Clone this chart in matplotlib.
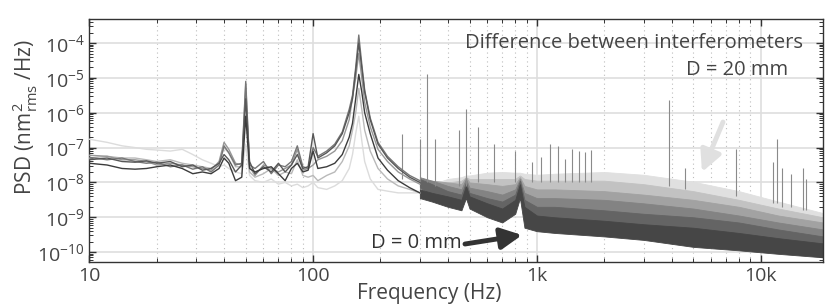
import numpy as np
import matplotlib.pyplot as plt
from matplotlib.ticker import LogLocator, NullFormatter, FixedLocator, FixedFormatter

plt.rcParams['font.family'] = ['Open Sans', 'DejaVu Sans']
plt.rcParams['mathtext.fontset'] = 'custom'
plt.rcParams['mathtext.rm'] = 'Open Sans'

# low frequency part (drawn as lines), log10 PSD in nm^2/Hz
f_lo = [10, 12, 14, 16, 18, 20, 23, 26, 29, 32, 35, 38, 40, 42, 45, 48, 50, 52, 55, 60,
        65, 70, 75, 80, 85, 90, 95, 100, 105, 115, 125, 135, 145, 150, 155, 160, 165, 170,
        180, 195, 215, 240, 270, 300]
lo_d0 = [-7.45, -7.5, -7.6, -7.62, -7.6, -7.55, -7.5, -7.6, -7.75, -7.7, -7.75, -7.6, -7.3, -7.45,
         -7.95, -7.85, -6.1, -7.6, -7.7, -7.6, -7.55, -7.75, -7.95, -7.6, -7.45, -7.7, -7.65, -7.1,
         -7.6, -7.55, -7.45, -7.2, -6.7, -6.3, -5.6, -4.9, -5.4, -6.0, -6.6, -7.3, -7.65, -7.95,
         -8.15, -8.3]
lo_d1 = [-7.35, -7.3, -7.4, -7.42, -7.38, -7.45, -7.4, -7.55, -7.5, -7.65, -7.6, -7.45, -7.2, -7.35,
         -7.7, -7.5, -5.6, -7.4, -7.75, -7.55, -7.7, -7.45, -7.7, -7.5, -7.2, -7.6, -7.55, -6.6,
         -7.3, -7.15, -6.95, -6.6, -6.0, -5.6, -4.8, -4.0, -4.7, -5.4, -6.2, -6.9, -7.3, -7.6,
         -7.85, -8.0]
lo_d2 = [-7.28, -7.35, -7.3, -7.4, -7.45, -7.42, -7.55, -7.5, -7.62, -7.55, -7.7, -7.5, -6.95, -7.15,
         -7.5, -7.45, -5.1, -7.5, -7.6, -7.4, -7.75, -7.5, -7.55, -7.4, -6.95, -7.55, -7.6, -7.0,
         -7.25, -7.1, -6.9, -6.55, -5.9, -5.5, -4.7, -3.77, -4.6, -5.35, -6.15, -6.85, -7.25, -7.55,
         -7.8, -7.95]
lo_d3 = [-7.22, -7.25, -7.35, -7.35, -7.4, -7.5, -7.45, -7.5, -7.55, -7.6, -7.65, -7.4, -6.85, -7.05,
         -7.45, -7.5, -5.2, -7.55, -7.8, -7.5, -7.6, -7.7, -7.6, -7.5, -7.05, -7.65, -7.6, -7.5,
         -7.35, -7.25, -7.1, -6.8, -6.2, -5.55, -5.0, -4.3, -5.0, -5.7, -6.4, -7.05, -7.4, -7.7,
         -7.9, -8.05]
lo_d4 = [-7.3, -7.25, -7.3, -7.3, -7.35, -7.4, -7.35, -7.45, -7.5, -7.55, -7.6, -7.45, -7.0, -7.15,
         -7.55, -7.55, -5.4, -7.7, -7.85, -7.75, -7.6, -7.8, -7.7, -7.75, -7.35, -7.8, -7.85, -7.8,
         -7.95, -7.8, -7.7, -7.4, -6.95, -6.5, -6.0, -5.3, -5.9, -6.5, -7.1, -7.6, -7.9, -8.1,
         -8.2, -8.3]
lo_d5 = [-6.76, -6.85, -6.95, -7.0, -7.05, -7.07, -7.1, -7.05, -7.2, -7.35, -7.45, -7.55, -7.5, -7.6,
         -7.7, -7.75, -6.9, -7.8, -7.95, -8.0, -7.9, -8.05, -8.0, -8.1, -8.05, -8.15, -8.1, -8.0,
         -8.15, -8.2, -8.1, -7.95, -7.6, -7.2, -6.6, -6.1, -6.8, -7.4, -7.9, -8.2, -8.25, -8.3,
         -8.3, -8.3]

# high frequency part: noise band, upper / lower edge (log10)
f_hi = [300, 340, 400, 460, 482, 500, 600, 700, 800, 840, 880, 1000, 1200, 2000, 3000, 5000,
        8000, 12000, 19000]
hi_d0 = [-8.2, -8.3, -8.4, -8.5, -8.1, -8.4, -8.6, -8.75, -8.5, -8.05, -8.7, -8.95, -9.0, -9.1,
         -9.2, -9.3, -9.45, -9.6, -9.75]
lw_d0 = [-8.45, -8.55, -8.7, -8.8, -8.45, -8.75, -9.0, -9.15, -8.9, -8.45, -9.3, -9.4, -9.45, -9.55,
         -9.65, -9.85, -9.95, -10.05, -10.15]
hi_d1 = [-7.9, -8.05, -8.25, -8.35, -8.0, -8.3, -8.45, -8.55, -8.35, -7.95, -8.5, -8.7, -8.7, -8.8,
         -8.9, -9.0, -9.15, -9.35, -9.55]
lw_d1 = [-8.15, -8.35, -8.55, -8.7, -8.35, -8.65, -8.85, -8.95, -8.75, -8.35, -8.95, -9.1, -9.15,
         -9.25, -9.35, -9.5, -9.65, -9.8, -9.95]
hi_d2 = [-7.85, -7.95, -8.1, -8.2, -7.9, -8.15, -8.25, -8.35, -8.2, -7.9, -8.3, -8.45, -8.45, -8.5,
         -8.6, -8.75, -8.95, -9.15, -9.35]
lw_d2 = [-8.1, -8.25, -8.45, -8.55, -8.3, -8.5, -8.65, -8.75, -8.6, -8.3, -8.75, -8.85, -8.9, -9.0,
         -9.1, -9.25, -9.45, -9.6, -9.75]
hi_d3 = [-7.95, -7.95, -8.0, -8.05, -7.85, -8.0, -8.05, -8.1, -8.05, -7.85, -8.1, -8.2, -8.2, -8.25,
         -8.35, -8.5, -8.7, -8.95, -9.15]
lw_d3 = [-8.2, -8.3, -8.4, -8.45, -8.25, -8.4, -8.45, -8.5, -8.45, -8.25, -8.5, -8.6, -8.65, -8.7,
         -8.8, -9.0, -9.2, -9.4, -9.55]
hi_d4 = [-8.2, -8.1, -8.0, -7.95, -7.85, -7.9, -7.9, -7.9, -7.9, -7.8, -7.9, -7.95, -7.95, -7.95,
         -8.05, -8.25, -8.5, -8.75, -9.0]
lw_d4 = [-8.45, -8.4, -8.35, -8.35, -8.25, -8.3, -8.3, -8.3, -8.3, -8.2, -8.3, -8.35, -8.4, -8.4,
         -8.5, -8.7, -8.95, -9.15, -9.35]
hi_d5 = [-8.2, -8.05, -7.9, -7.85, -7.8, -7.8, -7.72, -7.7, -7.72, -7.72, -7.75, -7.78, -7.75,
         -7.7, -7.78, -7.98, -8.25, -8.55, -8.88]
lw_d5 = [-8.45, -8.35, -8.25, -8.2, -8.2, -8.2, -8.12, -8.1, -8.12, -8.12, -8.15, -8.18, -8.15,
         -8.1, -8.2, -8.4, -8.65, -8.95, -9.25]

# narrow lines sticking out of the noise: frequency, top, base (log10)
spike_f = [249, 300, 323, 352, 449, 482, 548, 643, 800, 948, 1040, 1140, 1240, 1340, 1440,
           1550, 1640, 1750, 3900, 4600, 7800, 11300, 11800, 12500, 13700, 15500, 15900]
spike_top = [-6.6, -6.75, -4.9, -6.75, -6.5, -5.9, -6.4, -6.9, -7.1, -7.4, -7.27, -6.9, -6.96,
             -7.33, -7.05, -7.1, -7.12, -7.07, -5.63, -7.6, -7.04, -7.4, -6.76, -7.6, -7.75,
             -7.6, -7.9]
spike_base = [-7.9, -8.0, -8.0, -8.1, -8.1, -8.1, -8.0, -8.0, -8.0, -8.0, -8.0, -8.0, -8.0,
              -8.0, -8.0, -8.0, -8.0, -8.0, -8.1, -8.2, -8.4, -8.6, -8.6, -8.7, -8.7,
              -8.8, -8.8]

colors = ['#3c3c3c', '#575757', '#767676', '#979797', '#b9b9b9', '#dcdcdc']
band_colors = ['#464646', '#646464', '#838383', '#a2a2a2', '#c2c2c2', '#e0e0e0']
lines_lo = [lo_d0, lo_d1, lo_d2, lo_d3, lo_d4, lo_d5]
bands_hi = [hi_d0, hi_d1, hi_d2, hi_d3, hi_d4, hi_d5]
bands_lw = [lw_d0, lw_d1, lw_d2, lw_d3, lw_d4, lw_d5]

fig = plt.figure(figsize=(8.31, 3.06), dpi=100)
ax = fig.add_axes([0.1075, 0.1438, 0.8829, 0.7941])

# lightest first, darkest on top
for k in range(5, -1, -1):
    ax.fill_between(f_hi, 10 ** np.array(bands_lw[k]), 10 ** np.array(bands_hi[k]),
                    color=band_colors[k], lw=0.6, edgecolor=band_colors[k], zorder=2)
for k in range(5, -1, -1):
    ax.plot(f_lo, 10 ** np.array(lines_lo[k]), color=colors[k], lw=1.0, zorder=3)

ax.vlines(spike_f, 10 ** np.array(spike_base), 10 ** np.array(spike_top),
          color='#8a8a8a', lw=0.8, zorder=2.5)

ax.set_xscale('log')
ax.set_yscale('log')
ax.set_xlim(10, 19000)
ax.set_ylim(5.2e-11, 4.9e-4)

ax.xaxis.set_major_locator(FixedLocator([10, 100, 1000, 10000]))
ax.xaxis.set_major_formatter(FixedFormatter(['10', '100', '1k', '10k']))
ax.xaxis.set_minor_locator(LogLocator(base=10, subs=np.arange(2, 10), numticks=20))
ax.xaxis.set_minor_formatter(NullFormatter())
yt = [1e-10, 1e-9, 1e-8, 1e-7, 1e-6, 1e-5, 1e-4]
ax.yaxis.set_major_locator(FixedLocator(yt))
ax.yaxis.set_major_formatter(FixedFormatter(
    [r'$\mathregular{10^{%d}}$' % e for e in range(-10, -3)]))
ax.yaxis.set_minor_locator(LogLocator(base=10, subs=np.arange(2, 10), numticks=20))
ax.yaxis.set_minor_formatter(NullFormatter())

ax.tick_params(which='both', direction='in', top=True, right=True, colors='#333333',
               labelcolor='#444444', labelsize=14)
ax.tick_params(which='major', length=5, width=1)
ax.tick_params(which='minor', length=3, width=0.7)

ax.grid(True, which='major', axis='both', color='#dedede', lw=1.2, zorder=0)
ax.grid(True, which='minor', axis='x', color='#bdbdbd', lw=0.8, ls=(0, (1, 3)), zorder=0)
ax.set_axisbelow(True)
for s in ax.spines.values():
    s.set_color('#333333')
    s.set_linewidth(1.0)

fig.text(429 / 831, 1 - 293 / 306, 'Frequency (Hz)', ha='center', va='center',
         fontsize=15, color='#444444')
fig.text(25 / 831, 1 - 117 / 306, r'PSD (nm$\mathregular{^{2}_{rms}}$ /Hz)', ha='center',
         va='center', rotation=90, fontsize=15, color='#444444')

ax.text(0.973, 0.90, 'Difference between interferometers', transform=ax.transAxes,
        ha='right', va='center', fontsize=14.5, color='#444444', zorder=5)
ax.text(0.8133, 0.79, 'D = 20 mm', transform=ax.transAxes, ha='left', va='center',
        fontsize=14.5, color='#444444', zorder=5)
ax.text(0.5075, 0.078, 'D = 0 mm', transform=ax.transAxes, ha='right', va='center',
        fontsize=14.5, color='#333333', zorder=5)

ax.annotate('', xy=(0.5898, 0.111), xytext=(0.512, 0.074), xycoords='axes fraction',
            arrowprops=dict(arrowstyle='-|>', color='#333333', lw=3.5, mutation_scale=32,
                            shrinkA=0, shrinkB=0), zorder=5)
ax.annotate('', xy=(0.835, 0.37), xytext=(0.8637, 0.576), xycoords='axes fraction',
            arrowprops=dict(arrowstyle='-|>', color='#e0e0e0', lw=3.5, mutation_scale=32,
                            shrinkA=0, shrinkB=0), zorder=5)

fig.savefig('out.png', dpi=100)
